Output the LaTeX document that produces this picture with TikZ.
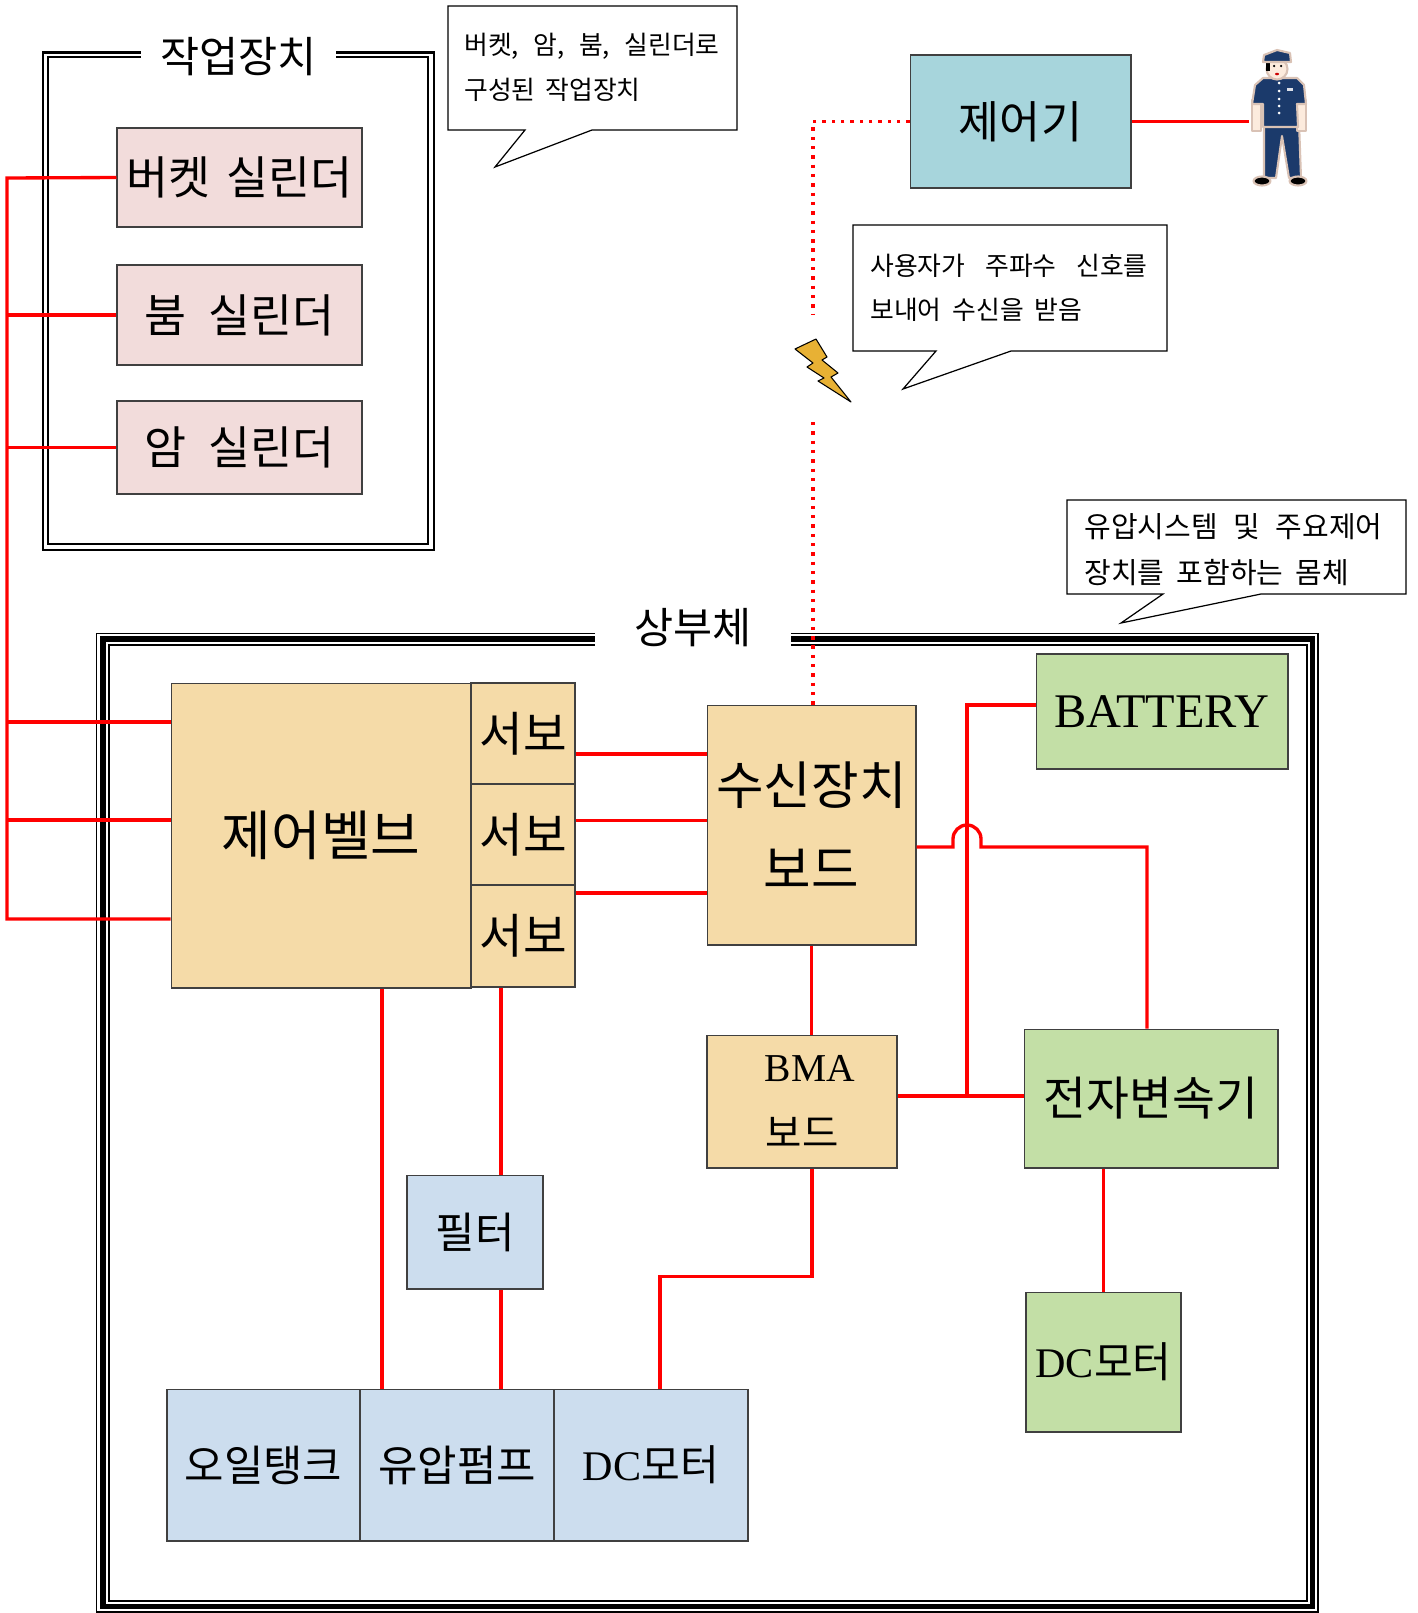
\documentclass[tikz,border=0pt]{standalone}
\usepackage{fontspec}
\setmainfont{Liberation Serif}
\newfontfamily\krfont{Noto Sans CJK KR}
\definecolor{pinkfill}{HTML}{F2DCDB}
\definecolor{wheatfill}{HTML}{F5DBA8}
\definecolor{tealfill}{HTML}{A7D5DC}
\definecolor{greenfill}{HTML}{C3DFA6}
\definecolor{bluefill}{HTML}{CCDDEE}
\definecolor{boltfill}{HTML}{E8B134}
\definecolor{navy}{HTML}{1B3A6B}
\definecolor{skin}{HTML}{FCEBDD}
\definecolor{halo}{HTML}{D9C2B5}

\begin{document}
\begin{tikzpicture}[x=0.02cm, y=-0.02cm,
  box/.style={draw=black!75, line width=0.6pt, inner sep=0pt, align=center},
  pinkbox/.style={box, fill=pinkfill, font=\krfont\fontsize{26}{30}\selectfont},
  wheatbox/.style={box, fill=wheatfill},
  greenbox/.style={box, fill=greenfill},
  bluebox/.style={box, fill=bluefill, font=\krfont\fontsize{24.4}{28}\selectfont},
  title/.style={fill=white, inner sep=0pt, minimum height=1.2cm, font=\krfont\fontsize{24.2}{28}\selectfont},
  callout/.style={draw=black, fill=white, line width=0.7pt},
  notetext/.style={anchor=west, inner sep=0pt, align=left},
  wire/.style={draw=red, line width=1.9pt},
  radio/.style={draw=red, line width=1.9pt, dash pattern=on 1.9pt off 3.4pt}]
\useasboundingbox (0,0) rectangle (1417,1613);

\draw[line width=1.3pt] (43.3,52.5) rectangle (433.7,550);
\draw[line width=1.1pt] (48.3,57) rectangle (428.3,543.7);
\node (worktitle) [title, minimum width=3.9cm] at (238.5,57) {작업장치};

\draw[line width=0.85pt] (96.5,633.3) rectangle (1318.2,1612);
\draw[line width=3.1pt] (103,639) rectangle (1312.5,1606.5);
\draw[line width=0.85pt] (109,645) rectangle (1307,1601);
\node (bodytitle) [title, minimum width=3.92cm, minimum height=1.3cm] at (693,628) {상부체};

\node (bucket) [pinkbox, minimum width=4.9cm, minimum height=1.98cm] at (239.5,177.5) {버켓\hspace{0.35em}실린더};
\node (boom) [pinkbox, minimum width=4.9cm, minimum height=2cm] at (239.5,315) {붐\hspace{0.5em}실린더};
\node (arm) [pinkbox, minimum width=4.9cm, minimum height=1.86cm] at (239.5,447.5) {암\hspace{0.5em}실린더};

\node (valve) [wheatbox, minimum width=6cm, minimum height=6.1cm, font=\krfont\fontsize{30.7}{34}\selectfont] at (321,835.5) {제어벨브};
\node (servo1) [wheatbox, minimum width=2.08cm, minimum height=2.02cm, font=\krfont\fontsize{27}{30}\selectfont] at (523,733.5) {서보};
\node (servo2) [wheatbox, minimum width=2.08cm, minimum height=2.02cm, font=\krfont\fontsize{27}{30}\selectfont] at (523,835) {서보};
\node (servo3) [wheatbox, minimum width=2.08cm, minimum height=2.04cm, font=\krfont\fontsize{27}{30}\selectfont] at (523,936) {서보};
\node (recv) [wheatbox, minimum width=4.18cm, minimum height=4.8cm, font=\krfont\fontsize{29.4}{48}\selectfont] at (811.5,825) {수신장치\\보드};
\node (bma) [wheatbox, minimum width=3.8cm, minimum height=2.66cm, font=\krfont\fontsize{22.5}{37.4}\selectfont] at (802,1101.5) {\hspace*{0.4em}{\rmfamily BMA}\\보드};

\node (battery) [greenbox, minimum width=5.04cm, minimum height=2.3cm, font=\fontsize{27.5}{30}\selectfont] at (1162,711.5) {BATTERY};
\node (tcu) [greenbox, minimum width=5.08cm, minimum height=2.78cm, font=\krfont\fontsize{26.5}{30}\selectfont] at (1151,1098.5) {전자변속기};
\node (motor2) [greenbox, minimum width=3.1cm, minimum height=2.8cm, font=\krfont\fontsize{24}{28}\selectfont] at (1103.5,1362) {{\rmfamily DC}모터};

\node (filter) [bluebox, minimum width=2.72cm, minimum height=2.28cm] at (475,1232) {필터};
\node (tank) [bluebox, minimum width=3.86cm, minimum height=3.04cm] at (263.5,1465) {오일탱크};
\node (pump) [bluebox, minimum width=3.88cm, minimum height=3.04cm] at (457,1465) {유압펌프};
\node (motor1) [bluebox, minimum width=3.88cm, minimum height=3.04cm, font=\krfont\fontsize{24}{28}\selectfont] at (651,1465) {{\rmfamily DC}모터};

\node (ctrl) [box, fill=tealfill, minimum width=4.42cm, minimum height=2.66cm, font=\krfont\fontsize{25.4}{30}\selectfont] at (1020.5,121.5) {제어기};

\coordinate (bus) at (7,178);
\draw[wire] (bucket.west) -- (bus) |- ([yshift=-1.67cm]valve.west);
\draw[wire] (boom.west) -- (boom.west -| bus);
\draw[wire] (arm.west) -- (arm.west -| bus);
\draw[wire] ([yshift=2.27cm]valve.west) -- ++(-164,0);
\draw[wire] ([yshift=0.31cm]valve.west) -- ++(-164,0);

\draw[wire] ([yshift=-0.41cm]servo1.east) -- ([yshift=-0.41cm]servo1.east -| recv.west);
\draw[wire] ([yshift=0.29cm]servo2.east) -- ([yshift=0.29cm]servo2.east -| recv.west);
\draw[wire] ([yshift=0.86cm]servo3.east) -- ([yshift=0.86cm]servo3.east -| recv.west);

\draw[wire] ([xshift=1.22cm]valve.south) -- ([xshift=1.22cm]valve.south |- tank.north);
\draw[wire] ([xshift=-0.44cm]servo3.south) -- ([xshift=-0.44cm]servo3.south |- filter.north);
\draw[wire] ([xshift=0.52cm]filter.south) -- ([xshift=0.52cm]filter.south |- pump.north);

\draw[wire] (recv.south) -- (recv.south |- bma.north);
\draw[wire] ([xshift=0.2cm]bma.south) -- ++(0,108) -| ([xshift=0.18cm]motor1.north);
\draw[wire] ([yshift=0.11cm]bma.east) -- ([yshift=0.11cm]bma.east -| tcu.west);

\coordinate (jump) at (967,847);
\draw[wire] ([yshift=0.13cm]battery.west) -| ([yshift=0.11cm]jump |- bma.east);
\draw[wire] ([yshift=-0.44cm]recv.east) -- ([xshift=-0.28cm]jump) -- ++(0,-8)
  arc[start angle=180, end angle=0, radius=0.28cm] -- ++(0,8) -- ([xshift=-0.08cm]tcu.north |- jump) -- ([xshift=-0.08cm]tcu.north);
\draw[wire] (motor2.north |- tcu.south) -- (motor2.north);

\coordinate (guard) at (1249,121.5);
\draw[wire] (ctrl.east) -- (guard);

\coordinate (rftop) at (813,314);
\coordinate (rfbot) at (813,422);
\draw[radio] (ctrl.west) -| (rftop);
\draw[radio] (rfbot) -- (rfbot |- recv.north);

\filldraw[fill=boltfill, draw=black, line width=0.6pt, line join=round] (795,349) -- (816,339) -- (827,357) -- (822,360) -- (838,373) -- (831,377) -- (851,402) -- (818,381) -- (824,378) -- (807,367) -- (813,363) -- cycle;

\begin{scope}[draw=halo, line width=1.2pt, line join=round]
\filldraw[fill=navy] (1264,122) -- (1299,122) -- (1301,178) -- (1289,178) -- (1282,136) -- (1276,178) -- (1264,178) -- cycle;
\filldraw[fill=skin] (1252,100) rectangle (1261,131);
\filldraw[fill=skin] (1297,100) rectangle (1306,131);
\filldraw[fill=navy] (1263,78) -- (1297,78) -- (1304,85) -- (1306,104) -- (1297,104) -- (1298,127) -- (1263,127) -- (1263,104) -- (1252,104) -- (1255,85) -- cycle;
\filldraw[fill=skin] (1277,69) ellipse [x radius=0.21cm, y radius=0.21cm];
\fill[black] (1266,61) rectangle (1270,71);
\filldraw[fill=navy] (1263,62) -- (1264,55) -- (1277,50) -- (1290,53) -- (1291,62) -- cycle;
\fill[black] (1274,66) circle[radius=0.025cm];
\fill[black] (1281,66) circle[radius=0.025cm];
\fill[red!80!black] (1277,74) ellipse [x radius=0.04cm, y radius=0.025cm];
\foreach \y in {83,91,99,106,113}
  \fill[white] (1279,\y) circle[radius=0.03cm];
\fill[white!85!navy] (1287,88) rectangle (1293,91);
\filldraw[fill=black] (1262,181) ellipse [x radius=0.17cm, y radius=0.09cm];
\filldraw[fill=black] (1298,181) ellipse [x radius=0.17cm, y radius=0.09cm];
\end{scope}

\draw[callout] (448,6) -- (737,6) -- (737,130) -- (592,130) -- (495,167) -- (525,130) -- (448,130) -- cycle;
\node (note1) [notetext, font=\krfont\fontsize{14.7}{25.5}\selectfont] at (464,67.5) {버켓,\hspace{8.3pt}암,\hspace{8.3pt}붐,\hspace{8.3pt}실린더로\\구성된\hspace{5.7pt}작업장치};

\draw[callout] (853,225) -- (1167,225) -- (1167,351) -- (1011,351) -- (903,389) -- (936,351) -- (853,351) -- cycle;
\node (note2) [notetext, font=\krfont\fontsize{14.7}{25}\selectfont] at (870,288) {사용자가\hspace{11.3pt}주파수\hspace{11.3pt}신호를\\보내어\hspace{6.2pt}수신을\hspace{6.2pt}받음};

\draw[callout] (1067,500) -- (1406,500) -- (1406,594) -- (1261,594) -- (1121,623) -- (1163,594) -- (1067,594) -- cycle;
\node (note3) [notetext, font=\krfont\fontsize{16.5}{26.3}\selectfont] at (1084,550) {유압시스템\hspace{9pt}및\hspace{9pt}주요제어\\장치를\hspace{7pt}포함하는\hspace{7pt}몸체};
\end{tikzpicture}
\end{document}
